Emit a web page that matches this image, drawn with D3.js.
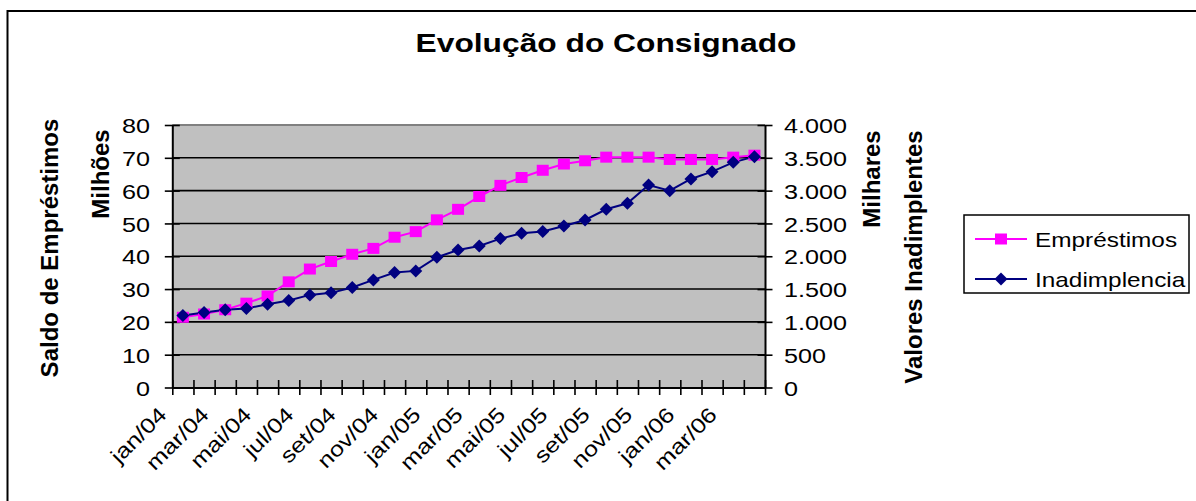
<!DOCTYPE html>
<html><head><meta charset="utf-8">
<script src="https://cdn.jsdelivr.net/npm/d3@7"></script>
<style>body{margin:0;background:#fff} svg{display:block} text{font-family:Arial,"Liberation Sans",sans-serif;fill:#000}</style>
</head><body>
<svg id="c" width="1196" height="501"></svg>
<script>
const months = ["jan/04","fev/04","mar/04","abr/04","mai/04","jun/04","jul/04","ago/04","set/04","out/04","nov/04","dez/04",
  "jan/05","fev/05","mar/05","abr/05","mai/05","jun/05","jul/05","ago/05","set/05","out/05","nov/05","dez/05",
  "jan/06","fev/06","mar/06","abr/06"];
const emprestimos = [21.4,22.4,23.7,25.7,27.9,32.2,36.1,38.4,40.6,42.4,45.8,47.5,51.1,54.3,58.2,61.6,64.0,66.2,68.1,69.1,70.2,70.2,70.2,69.5,69.5,69.5,70.2,70.8];
const inadimplencia = [1096,1142,1183,1203,1269,1325,1411,1442,1523,1640,1751,1777,1985,2096,2157,2269,2350,2376,2462,2553,2716,2807,3086,3000,3178,3289,3431,3518];
const leftTicks = [0,10,20,30,40,50,60,70,80];
const rightTicks = [0,500,1000,1500,2000,2500,3000,3500,4000];
const seriesNames = ["Empréstimos","Inadimplencia"];
const seriesColors = ["#ff00ff","#000080"];
const title = "Evolução do Consignado";

const S = 1.2;
const svg = d3.select("#c");
const ptBR = d3.formatLocale({decimal:",",thousands:".",grouping:[3],currency:["R$",""]});
const fmtR = ptBR.format(",");

// outer chart border
svg.append("rect").attr("x",7.5).attr("y",11).attr("width",1200).attr("height",500)
  .attr("fill","#fff").attr("stroke","#000").attr("stroke-width",2);

const pl=172.3, pr=765, pt=125, pb=387.5;
const x = d3.scaleBand().domain(months).range([pl,pr]);
const bw = x.bandwidth();
const xi = d3.scaleLinear().domain([0,months.length]).range([pl,pr]);
const yL = d3.scaleLinear().domain([0,80]).range([pb,pt]);
const yR = d3.scaleLinear().domain([0,4000]).range([pb,pt]);

svg.append("rect").attr("x",pl).attr("y",pt).attr("width",pr-pl).attr("height",pb-pt).attr("fill","#c0c0c0");
svg.append("g").selectAll("line").data(leftTicks.filter(v=>v>0&&v<80)).join("line")
  .attr("x1",pl).attr("x2",pr).attr("y1",d=>yL(d)).attr("y2",d=>yL(d))
  .attr("stroke","#000").attr("stroke-width",1.6);
svg.append("line").attr("x1",pl).attr("x2",pr).attr("y1",pt).attr("y2",pt).attr("stroke","#808080").attr("stroke-width",2);

// left axis
const gL = svg.append("g").attr("transform",`translate(${pl},0)`)
  .call(d3.axisLeft(yL).tickValues(leftTicks).tickSizeInner(7.5).tickSizeOuter(0));
gL.select(".domain").attr("stroke","#000").attr("stroke-width",2);
gL.selectAll(".tick line").attr("x1",-7.5).attr("x2",7.5).attr("stroke","#000").attr("stroke-width",1.6);
gL.selectAll(".tick text").attr("x",null).attr("dy","0.36em").attr("font-size",21).attr("text-anchor","end")
  .attr("font-family","Arial, 'Liberation Sans', sans-serif")
  .attr("transform",`translate(${150-pl},0) scale(${S},1)`);

// right axis
const gR = svg.append("g").attr("transform",`translate(${pr},0)`)
  .call(d3.axisRight(yR).tickValues(rightTicks).tickFormat(fmtR).tickSizeInner(7.5).tickSizeOuter(0));
gR.select(".domain").attr("stroke","#000").attr("stroke-width",2);
gR.selectAll(".tick line").attr("x1",-7.5).attr("x2",7.5).attr("stroke","#000").attr("stroke-width",1.6);
gR.selectAll(".tick text").attr("x",null).attr("dy","0.36em").attr("font-size",21).attr("text-anchor","start")
  .attr("font-family","Arial, 'Liberation Sans', sans-serif")
  .attr("transform",`translate(19,0) scale(${S},1)`);

// bottom axis
const gB = svg.append("g").attr("transform",`translate(0,${pb})`)
  .call(d3.axisBottom(xi).tickValues(d3.range(months.length+1)).tickFormat("").tickSizeInner(7.5).tickSizeOuter(0));
gB.select(".domain").attr("stroke","#000").attr("stroke-width",2);
gB.selectAll(".tick line").attr("y1",-7.5).attr("y2",7.5).attr("stroke","#000").attr("stroke-width",1.6);

svg.append("g").selectAll("text").data(months.filter((d,i)=>i%2===0)).join("text")
  .attr("font-size",21).attr("text-anchor","end")
  .attr("transform",d=>`translate(${x(d)+bw/2-15},416) rotate(-45) scale(${S},1)`)
  .text(d=>d);

// series
const cx = d=>x(d)+bw/2;
const lineL = d3.line().x((d,i)=>cx(months[i])).y(d=>yL(d));
const lineR = d3.line().x((d,i)=>cx(months[i])).y(d=>yR(d));
svg.append("path").datum(emprestimos).attr("d",lineL).attr("fill","none").attr("stroke",seriesColors[0]).attr("stroke-width",2);
svg.append("path").datum(inadimplencia).attr("d",lineR).attr("fill","none").attr("stroke",seriesColors[1]).attr("stroke-width",2);

const square = (px,py)=>`M${px-6},${py-5.5}h12v11h-12Z`;
const diamond = (px,py)=>`M${px},${py-6.5}L${px+6.5},${py}L${px},${py+6.5}L${px-6.5},${py}Z`;
svg.append("g").selectAll("path").data(emprestimos).join("path")
  .attr("d",(d,i)=>square(cx(months[i]),yL(d))).attr("fill",seriesColors[0]);
svg.append("g").selectAll("path").data(inadimplencia).join("path")
  .attr("d",(d,i)=>diamond(cx(months[i]),yR(d))).attr("fill",seriesColors[1]);

// titles
svg.append("text").attr("font-size",25).attr("font-weight","bold").attr("text-anchor","middle")
  .attr("transform",`translate(606,52) scale(1.27,1)`).text(title);
const vt = (t,px,py)=>svg.append("text").attr("font-size",24).attr("font-weight","bold").attr("text-anchor","middle")
  .attr("transform",`translate(${px},${py}) rotate(-90)`).text(t);
vt("Saldo de Empréstimos",58,248);
vt("Milhões",109,174);
vt("Milhares",880,179);
vt("Valores Inadimplentes",922,257);

// legend
svg.append("rect").attr("x",964).attr("y",215).attr("width",225).attr("height",78)
  .attr("fill","#fff").attr("stroke","#000").attr("stroke-width",1.5);
const ly = [239,279];
seriesNames.forEach((n,i)=>{
  svg.append("line").attr("x1",975).attr("x2",1027).attr("y1",ly[i]).attr("y2",ly[i]).attr("stroke",seriesColors[i]).attr("stroke-width",2);
  svg.append("path").attr("d",i===0?square(1001,ly[i]):diamond(1001,ly[i])).attr("fill",seriesColors[i]);
  svg.append("text").attr("font-size",21).attr("dy","0.36em")
    .attr("transform",`translate(1035,${ly[i]}) scale(1.16,1)`).text(n);
});
</script>
</body></html>
